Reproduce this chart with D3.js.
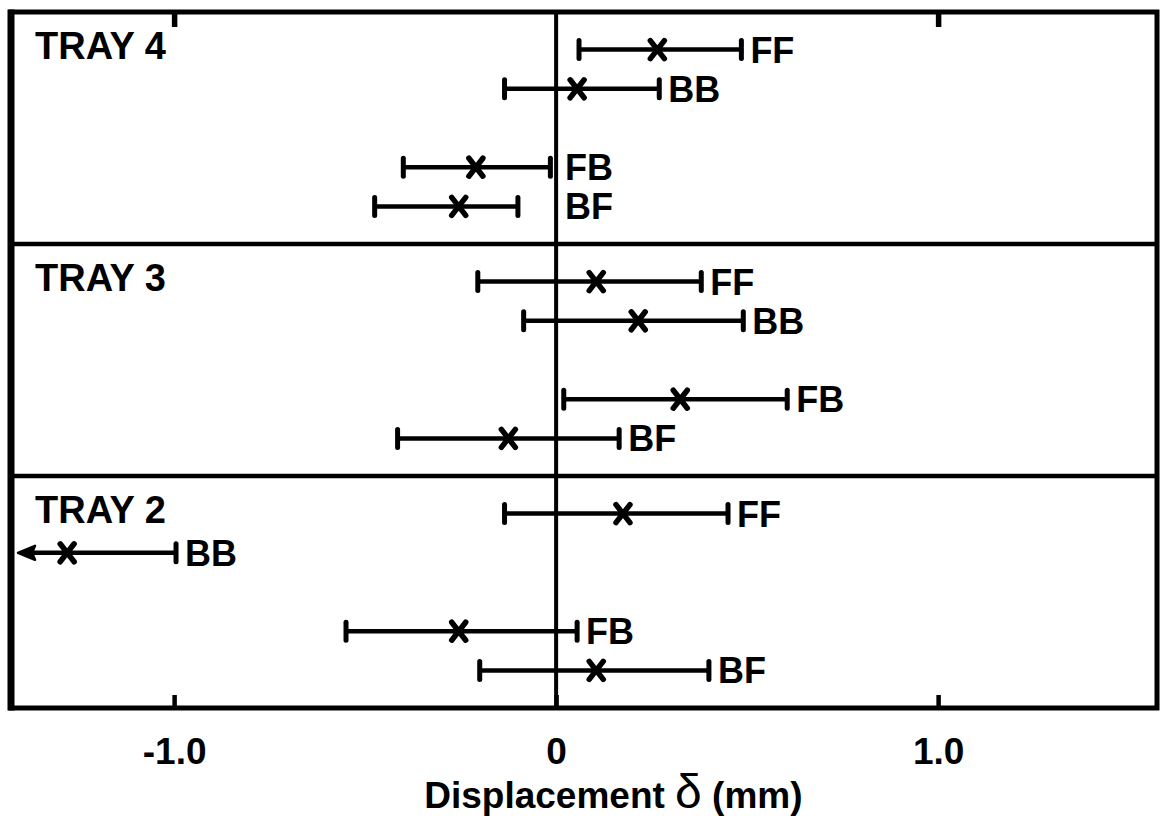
<!DOCTYPE html>
<html>
<head>
<meta charset="utf-8">
<script src="https://cdn.jsdelivr.net/npm/d3@7"></script>
<style>
  html, body { margin: 0; padding: 0; background: #fff; }
  svg { display: block; }
  text { font-family: "Liberation Sans", Arial, sans-serif; font-weight: bold; fill: #000; }
</style>
</head>
<body>
<svg id="chart" width="1161" height="819"></svg>
<script>
// ---------------- data ----------------
const trays = ["TRAY 4", "TRAY 3", "TRAY 2"];
const groups = ["FF", "BB", "FB", "BF"];
const rowSlots = ["FF", "BB", "gap", "FB", "BF"];   // vertical order inside each tray

const tray4Low  = [0.06, -0.135, -0.40, -0.475];
const tray4Mean = [0.265, 0.055, -0.21, -0.255];
const tray4High = [0.485, 0.27, -0.015, -0.10];

const tray3Low  = [-0.205, -0.085, 0.02, -0.415];
const tray3Mean = [0.105, 0.215, 0.325, -0.125];
const tray3High = [0.38, 0.49, 0.605, 0.165];

// BB lower limit lies off the scale to the left (drawn as an arrow)
const tray2Low  = [-0.135, -Infinity, -0.55, -0.20];
const tray2Mean = [0.175, -1.28, -0.255, 0.105];
const tray2High = [0.45, -0.995, 0.055, 0.40];

const xDomain = [-1.427, 1.573];
const tickValues = [-1, 0, 1];
const tickLabels = ["-1.0", "0", "1.0"];
const xTitle = "Displacement";
const xSymbol = "δ";
const xUnit = "(mm)";

const trayData = [
  {tray: trays[0], low: tray4Low, mean: tray4Mean, high: tray4High},
  {tray: trays[1], low: tray3Low, mean: tray3Mean, high: tray3High},
  {tray: trays[2], low: tray2Low, mean: tray2Mean, high: tray2High}
];

// ---------------- layout ----------------
const svg = d3.select("#chart");
const mLeft = 11, mRight = 1157, mTop = 12, mBottom = 708;

const x = d3.scaleLinear().domain(xDomain).range([mLeft, mRight]);
const yPanel = d3.scaleBand().domain(trays).range([mTop, mBottom]).paddingInner(0);

// frame
svg.append("rect")
  .attr("x", mLeft).attr("y", mTop)
  .attr("width", mRight - mLeft).attr("height", mBottom - mTop)
  .attr("fill", "none").attr("stroke", "#000").attr("stroke-width", 5);
svg.append("line")
  .attr("x1", mLeft).attr("x2", mLeft).attr("y1", mTop - 2.5).attr("y2", mBottom + 2.5)
  .attr("stroke", "#000").attr("stroke-width", 7);

// panel dividers
svg.selectAll("line.divider")
  .data(trays.slice(1))
  .join("line")
  .attr("class", "divider")
  .attr("x1", mLeft).attr("x2", mRight)
  .attr("y1", d => yPanel(d)).attr("y2", d => yPanel(d))
  .attr("stroke", "#000").attr("stroke-width", 4.5);

// zero line
svg.append("line")
  .attr("x1", x(0)).attr("x2", x(0))
  .attr("y1", mTop).attr("y2", mBottom)
  .attr("stroke", "#000").attr("stroke-width", 4);

// bottom axis (inward ticks, labels below)
const xAxis = d3.axisBottom(x)
  .tickValues(tickValues)
  .tickFormat((d, i) => tickLabels[i])
  .tickSizeInner(-13).tickSizeOuter(0).tickPadding(30);
const gx = svg.append("g").attr("transform", `translate(0,${mBottom})`).call(xAxis);
gx.select(".domain").remove();
gx.selectAll(".tick line").attr("stroke", "#000").attr("stroke-width", 4.5);
gx.selectAll(".tick text")
  .style("font-family", "'Liberation Sans', Arial, sans-serif")
  .style("font-weight", "bold")
  .style("font-size", "37px")
  .attr("fill", "#000");

// top axis (inward ticks, no labels)
const xAxisTop = d3.axisTop(x)
  .tickValues(tickValues.filter(v => v !== 0))
  .tickFormat("")
  .tickSizeInner(-15).tickSizeOuter(0);
const gt = svg.append("g").attr("transform", `translate(0,${mTop})`).call(xAxisTop);
gt.select(".domain").remove();
gt.selectAll(".tick line").attr("stroke", "#000").attr("stroke-width", 5.5);

// axis title
const title = svg.append("text")
  .attr("x", x(0.15)).attr("y", 808)
  .attr("text-anchor", "middle")
  .style("font-size", "37px");
title.append("tspan").text(xTitle + " ");
title.append("tspan").text(xSymbol).style("font-size", "48px").style("font-weight", "normal");
title.append("tspan").text(" " + xUnit);

// panels
trayData.forEach(td => {
  const p0 = yPanel(td.tray), p1 = p0 + yPanel.bandwidth();
  const yRow = d3.scalePoint().domain(rowSlots).range([p0, p1]).padding(0.96);
  const g = svg.append("g");

  g.append("text")
    .attr("x", 35).attr("y", p0 + 47)
    .style("font-size", "38px")
    .text(td.tray);

  const rows = groups.map((name, i) => ({
    name, low: td.low[i], mean: td.mean[i], high: td.high[i]
  }));

  const r = g.selectAll("g.row").data(rows).join("g")
    .attr("class", "row")
    .attr("transform", d => `translate(0,${yRow(d.name)})`);

  const offScale = d => !isFinite(d.low) || d.low < xDomain[0];
  const xl = d => offScale(d) ? x(xDomain[0]) + 4 : x(d.low);

  // bar
  r.append("line")
    .attr("x1", d => xl(d) + (offScale(d) ? 12 : 0)).attr("x2", d => x(d.high))
    .attr("y1", 0).attr("y2", 0)
    .attr("stroke", "#000").attr("stroke-width", 4.5);

  // low cap or arrow
  r.filter(d => !offScale(d)).append("line")
    .attr("x1", d => x(d.low)).attr("x2", d => x(d.low))
    .attr("y1", -9).attr("y2", 9)
    .attr("stroke", "#000").attr("stroke-width", 5).attr("stroke-linecap", "round");
  r.filter(d => offScale(d)).append("path")
    .attr("d", d => { const t = xl(d) + 3; return `M${t},0 L${t + 17},-7 L${t + 14},0 L${t + 17},7 Z`; })
    .attr("fill", "#000").attr("stroke", "#000").attr("stroke-width", 2.5).attr("stroke-linejoin", "round");

  // high cap
  r.append("line")
    .attr("x1", d => x(d.high)).attr("x2", d => x(d.high))
    .attr("y1", -9).attr("y2", 9)
    .attr("stroke", "#000").attr("stroke-width", 5).attr("stroke-linecap", "round");

  // mean cross
  r.append("path")
    .attr("d", d => { const c = x(d.mean); return `M${c - 7},-9 L${c + 7},9 M${c + 7},-9 L${c - 7},9`; })
    .attr("stroke", "#000").attr("stroke-width", 5.5).attr("stroke-linecap", "round").attr("fill", "none");

  // label: just right of the upper cap, or right of the zero line if the cap sits just left of it
  r.append("text")
    .attr("x", d => {
      const xh = x(d.high), x0 = x(0);
      return (xh < x0 && x0 - xh < 60 ? x0 : xh) + 9;
    })
    .attr("y", 13)
    .style("font-size", "36px")
    .text(d => d.name);
});
</script>
</body>
</html>
